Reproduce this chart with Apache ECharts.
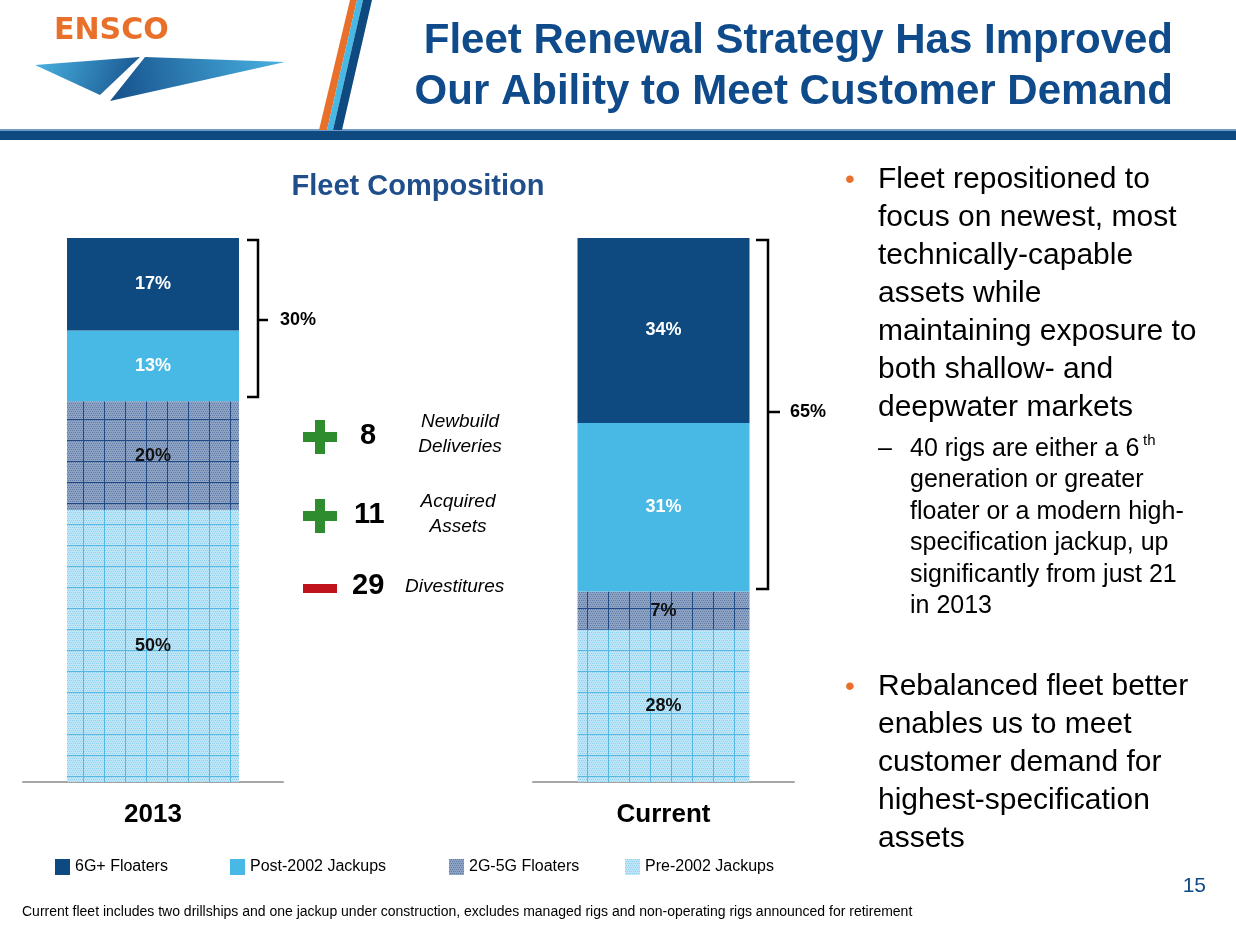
<!DOCTYPE html>
<html><head><meta charset="utf-8">
<script src="https://cdn.jsdelivr.net/npm/echarts@6/dist/echarts.min.js"></script>
<style>html,body{margin:0;padding:0;background:#fff}#main{width:1236px;height:934px}</style>
</head><body><div id="main"></div>
<script>
// data
let periods = ['2013', 'Current'];
let seriesNames = ['6G+ Floaters', 'Post-2002 Jackups', '2G-5G Floaters', 'Pre-2002 Jackups'];
let pre2002 = [50, 28];
let floaters2g5g = [20, 7];
let post2002 = [13, 31];
let floaters6g = [17, 34];

function makePattern(base, dots, line) {
  let c = document.createElement('canvas');
  c.width = 21; c.height = 21;
  let ctx = c.getContext('2d');
  ctx.fillStyle = base;
  ctx.fillRect(0, 0, 21, 21);
  ctx.fillStyle = dots;
  for (let y = 0; y < 21; y += 2) {
    for (let x = (y / 2) % 2; x < 21; x += 2) ctx.fillRect(x, y, 1, 1);
  }
  ctx.fillStyle = line;
  ctx.fillRect(20, 0, 1, 21);
  ctx.fillRect(0, 20, 21, 1);
  return c;
}
let darkPat = { image: makePattern('#8ea3c3', '#5f7ba6', '#1f4a86'), repeat: 'repeat' };
let lightPat = { image: makePattern('#bfe6f7', '#8fd0ef', '#56b7e3'), repeat: 'repeat' };

let chart = echarts.init(document.getElementById('main'));

let labelDark = { show: true, position: 'inside', color: '#111', fontWeight: 'bold', fontSize: 18, fontFamily: 'Liberation Sans', formatter: '{c}%' };
let labelLight = Object.assign({}, labelDark, { color: '#fff' });

function seriesFor(idx) {
  let stk = 'stack' + idx;
  return [
    { name: 'Pre-2002 Jackups', type: 'bar', stack: stk, xAxisIndex: idx, yAxisIndex: idx, barWidth: 172,
      data: [pre2002[idx]], itemStyle: { color: lightPat }, label: labelDark },
    { name: '2G-5G Floaters', type: 'bar', stack: stk, xAxisIndex: idx, yAxisIndex: idx,
      data: [floaters2g5g[idx]], itemStyle: { color: darkPat }, label: labelDark },
    { name: 'Post-2002 Jackups', type: 'bar', stack: stk, xAxisIndex: idx, yAxisIndex: idx,
      data: [post2002[idx]], itemStyle: { color: '#48b9e4' }, label: labelLight },
    { name: '6G+ Floaters', type: 'bar', stack: stk, xAxisIndex: idx, yAxisIndex: idx,
      data: [floaters6g[idx]], itemStyle: { color: '#0e4a80' }, label: labelLight }
  ];
}

function xAx(idx) {
  return {
    type: 'category', gridIndex: idx, data: [periods[idx]],
    axisTick: { show: false },
    axisLine: { lineStyle: { color: '#a6a6a6', width: 2 } },
    axisLabel: { color: '#000', fontSize: 26, fontWeight: 'bold', fontFamily: 'Liberation Sans', margin: 20 }
  };
}
function yAx(idx) {
  return { type: 'value', gridIndex: idx, min: 0, max: 100, show: false };
}

let legendPos = [50, 225, 444, 620];
let legendOrder = ['6G+ Floaters', 'Post-2002 Jackups', '2G-5G Floaters', 'Pre-2002 Jackups'];

let txt = (x, y, text, style) => ({ type: 'text', x: x, y: y, style: Object.assign({ text: text, fontFamily: 'Liberation Sans', fill: '#000' }, style) });

let bullet1 = ['Fleet repositioned to', 'focus on newest, most', 'technically-capable', 'assets while', 'maintaining exposure to', 'both shallow- and', 'deepwater markets'];
let sub = ['generation or greater', 'floater or a modern high-', 'specification jackup, up', 'significantly from just 21', 'in 2013'];
let bullet2 = ['Rebalanced fleet better', 'enables us to meet', 'customer demand for', 'highest-specification', 'assets'];

let graphics = [
  // header bar
  { type: 'rect', shape: { x: 0, y: 130, width: 1236, height: 10 }, style: { fill: '#0e4a80' } },
  { type: 'rect', shape: { x: 0, y: 129, width: 1236, height: 2 }, style: { fill: '#6f9bc8' } },
  // stripes
  { type: 'polygon', shape: { points: [[350, 0], [357, 0], [327, 130], [319, 130]] }, style: { fill: '#e8702a' } },
  { type: 'polygon', shape: { points: [[357, 0], [363, 0], [333, 130], [327, 130]] }, style: { fill: '#48b9e4' } },
  { type: 'polygon', shape: { points: [[363, 0], [372, 0], [342, 130], [333, 130]] }, style: { fill: '#0e4a80' } },
  // logo
  txt(54, 16, 'ENSCO', { fill: '#e8702a', fontFamily: 'DejaVu Sans', fontWeight: 'bold', fontSize: 30 }),
  { type: 'polygon', shape: { points: [[35, 65], [140, 57], [100, 95]] }, style: { fill: new echarts.graphic.LinearGradient(0, 0, 1, 1, [{ offset: 0, color: '#4ab3e2' }, { offset: 1, color: '#154f8a' }]) } },
  { type: 'polygon', shape: { points: [[145, 57], [285, 62], [110, 101]] }, style: { fill: new echarts.graphic.LinearGradient(1, 0, 0, 1, [{ offset: 0, color: '#4ab3e2' }, { offset: 1, color: '#154f8a' }]) } },
  // slide title
  txt(1173, 20, 'Fleet Renewal Strategy Has Improved', { fill: '#0f4a8a', fontSize: 42, fontWeight: 'bold', align: 'right' }),
  txt(1173, 71, 'Our Ability to Meet Customer Demand', { fill: '#0f4a8a', fontSize: 42, fontWeight: 'bold', align: 'right' }),
  txt(418, 172, 'Fleet Composition', { fill: '#1f4e8a', fontSize: 29, fontWeight: 'bold', align: 'center' }),
  // brackets
  { type: 'polyline', shape: { points: [[247, 240], [258, 240], [258, 397], [247, 397]] }, style: { stroke: '#000', lineWidth: 2.5, fill: null } },
  { type: 'line', shape: { x1: 258, y1: 320, x2: 268, y2: 320 }, style: { stroke: '#000', lineWidth: 2.5 } },
  txt(280, 311, '30%', { fontSize: 18, fontWeight: 'bold' }),
  { type: 'polyline', shape: { points: [[756, 240], [768, 240], [768, 589], [756, 589]] }, style: { stroke: '#000', lineWidth: 2.5, fill: null } },
  { type: 'line', shape: { x1: 768, y1: 412, x2: 780, y2: 412 }, style: { stroke: '#000', lineWidth: 2.5 } },
  txt(790, 403, '65%', { fontSize: 18, fontWeight: 'bold' }),
  // +/- changes
  { type: 'rect', shape: { x: 303, y: 432, width: 34, height: 10 }, style: { fill: '#2e8b2e' } },
  { type: 'rect', shape: { x: 315, y: 420, width: 10, height: 34 }, style: { fill: '#2e8b2e' } },
  { type: 'rect', shape: { x: 303, y: 511, width: 34, height: 10 }, style: { fill: '#2e8b2e' } },
  { type: 'rect', shape: { x: 315, y: 499, width: 10, height: 34 }, style: { fill: '#2e8b2e' } },
  { type: 'rect', shape: { x: 303, y: 584, width: 34, height: 9 }, style: { fill: '#c0121b' } },
  txt(360, 421, '8', { fontSize: 29, fontWeight: 'bold' }),
  txt(354, 500, '11', { fontSize: 29, fontWeight: 'bold' }),
  txt(352, 571, '29', { fontSize: 29, fontWeight: 'bold' }),
  txt(460, 412, 'Newbuild', { fontSize: 19, fontStyle: 'italic', align: 'center' }),
  txt(460, 437, 'Deliveries', { fontSize: 19, fontStyle: 'italic', align: 'center' }),
  txt(458, 492, 'Acquired', { fontSize: 19, fontStyle: 'italic', align: 'center' }),
  txt(458, 517, 'Assets', { fontSize: 19, fontStyle: 'italic', align: 'center' }),
  txt(405, 577, 'Divestitures', { fontSize: 19, fontStyle: 'italic' }),
  // footnote + page
  txt(22, 905, 'Current fleet includes two drillships and one jackup under construction, excludes managed rigs and non-operating rigs announced for retirement', { fontSize: 14 }),
  txt(1206, 876, '15', { fontSize: 21, fill: '#0f4a8a', align: 'right' })
];

graphics.push(txt(845, 166, '•', { fontSize: 28, fill: '#e8702a' }));
bullet1.forEach((l, i) => graphics.push(txt(878, 165 + i * 38, l, { fontSize: 30 })));
graphics.push(txt(878, 437, '–', { fontSize: 25 }));
graphics.push(txt(910, 437, '40 rigs are either a 6', { fontSize: 25 }));
graphics.push(txt(1143, 433, 'th', { fontSize: 15 }));
sub.forEach((l, i) => graphics.push(txt(910, 468 + i * 31.5, l, { fontSize: 25 })));
graphics.push(txt(845, 673, '•', { fontSize: 28, fill: '#e8702a' }));
bullet2.forEach((l, i) => graphics.push(txt(878, 672 + i * 38, l, { fontSize: 30 })));

let option = {
  animation: false,
  grid: [
    { left: 23, width: 260, top: 238, height: 544 },
    { left: 533, width: 261, top: 238, height: 544 }
  ],
  xAxis: [xAx(0), xAx(1)],
  yAxis: [yAx(0), yAx(1)],
  legend: legendOrder.map((n, i) => ({
    data: [n], left: legendPos[i], top: 854, itemWidth: 15, itemHeight: 16, itemGap: 10, icon: 'rect',
    textStyle: { fontSize: 16, color: '#000', fontFamily: 'Liberation Sans' }
  })),
  series: seriesFor(0).concat(seriesFor(1)),
  graphic: graphics
};
chart.setOption(option);
</script></body></html>
